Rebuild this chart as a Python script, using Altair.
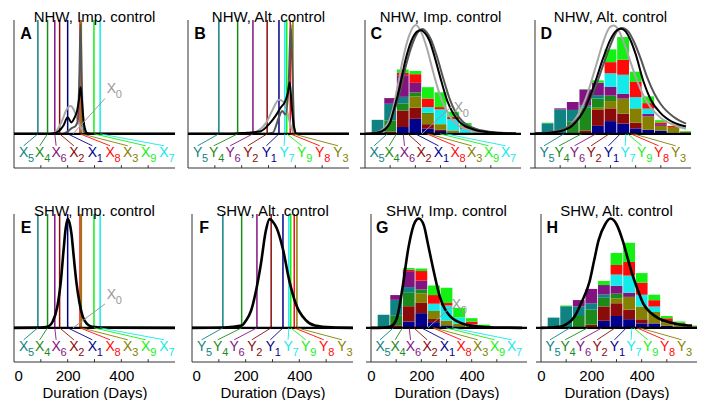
import altair as alt
import pandas as pd

FONT = "Liberation Sans"

# ---------------- data ----------------
COMPS = [1, 2, 3, 4, 5, 6, 7, 8, 9]
COMP_COLORS = ["#00008c", "#8b0a0a", "#858000", "#1b8a1b", "#0f8282",
               "#821482", "#14eaea", "#ff0a0a", "#14f014"]

X_ORDER = [5, 4, 6, 2, 1, 8, 3, 9, 7]
Y_ORDER = [5, 4, 6, 2, 1, 7, 9, 8, 3]
LABEL_DAYS = [36, 96, 157, 223, 292, 358, 424, 491, 559]
X_TARGETS = {5: 89, 4: 125, 6: 152, 2: 170, 1: 200, 8: 246, 3: 251, 9: 298, 7: 321}
Y_TARGETS = {5: 115, 4: 185, 6: 242, 2: 295, 1: 339, 7: 361, 9: 368, 8: 381, 3: 391}

TICK_DAYS = [100, 200, 300, 400, 500]
AXIS_LABELS = [0, 200, 400]

# stacked histogram bars: one row per bar, components X1..X9 (or Y1..Y9)
C_CENTERS = [50, 100, 150, 200, 250, 300, 350, 400, 450]
C_BARS = [
    [0, 0, 0, 0, 0.123, 0, 0, 0, 0],
    [0, 0.02, 0, 0.098, 0.146, 0.05, 0, 0, 0],
    [0.06, 0.145, 0, 0.06, 0.06, 0.19, 0, 0.02, 0.03],
    [0.132, 0.098, 0.098, 0.036, 0, 0.084, 0, 0.076, 0.028],
    [0.045, 0.04, 0.09, 0.01, 0, 0, 0.05, 0.075, 0.1],
    [0.025, 0.01, 0.05, 0, 0, 0, 0.13, 0.02, 0.13],
    [0.01, 0, 0.02, 0, 0, 0, 0.1, 0.02, 0.045],
    [0.005, 0, 0, 0, 0, 0, 0.04, 0.02, 0.03],
    [0, 0, 0, 0, 0, 0, 0.01, 0, 0.024],
]
D_CENTERS = [50, 100, 150, 200, 250, 300, 350, 400, 450, 500, 550, 600]
D_BARS = [
    [0, 0, 0, 0, 0.093, 0, 0, 0, 0.005],
    [0, 0, 0, 0, 0.214, 0.01, 0, 0, 0],
    [0, 0, 0, 0.11, 0.1, 0.07, 0, 0, 0],
    [0, 0.03, 0, 0.2, 0.02, 0.14, 0, 0, 0.002],
    [0.07, 0.14, 0.02, 0.08, 0.03, 0.11, 0, 0, 0.02],
    [0.112, 0.112, 0.064, 0.048, 0, 0.076, 0.12, 0.098, 0.112],
    [0.09, 0.087, 0.132, 0, 0, 0.042, 0.168, 0.132, 0.199],
    [0.048, 0.05, 0.126, 0, 0, 0, 0.098, 0.134, 0.09],
    [0.036, 0, 0.118, 0, 0, 0.02, 0.048, 0.048, 0.059],
    [0.028, 0, 0.042, 0, 0, 0.015, 0, 0.015, 0.02],
    [0.01, 0, 0.05, 0, 0, 0, 0, 0.01, 0],
    [0, 0, 0.02, 0, 0, 0, 0, 0, 0.005],
]
G_CENTERS = [50, 100, 150, 200, 250, 300, 350, 400, 450]
G_BARS = [
    [0, 0, 0, 0, 0.115, 0, 0, 0, 0],
    [0, 0.022, 0, 0.084, 0.14, 0.042, 0, 0, 0],
    [0.056, 0.134, 0, 0.118, 0.05, 0.14, 0, 0.014, 0.014],
    [0.129, 0.09, 0.084, 0.034, 0, 0.078, 0, 0.084, 0.022],
    [0.05, 0.028, 0.07, 0, 0, 0, 0.064, 0.076, 0.084],
    [0.022, 0, 0.042, 0, 0, 0, 0.132, 0.022, 0.134],
    [0, 0, 0.036, 0, 0, 0, 0.056, 0, 0.084],
    [0.01, 0, 0.01, 0, 0, 0, 0.01, 0.025, 0.03],
    [0, 0, 0.008, 0, 0, 0, 0, 0, 0.02],
]
H_CENTERS = [50, 100, 150, 200, 250, 300, 350, 400, 450, 500, 550, 600]
H_BARS = [
    [0, 0, 0, 0, 0.09, 0, 0, 0, 0],
    [0, 0, 0, 0, 0.19, 0, 0, 0, 0.006],
    [0, 0, 0, 0.104, 0.084, 0.056, 0, 0, 0],
    [0, 0.028, 0, 0.132, 0.056, 0.126, 0, 0, 0],
    [0.062, 0.126, 0, 0.076, 0.028, 0.084, 0, 0, 0.036],
    [0.104, 0.112, 0.042, 0.042, 0, 0.07, 0.098, 0.084, 0.106],
    [0.076, 0.084, 0.112, 0, 0, 0.036, 0.151, 0.12, 0.168],
    [0.039, 0.036, 0.112, 0, 0, 0, 0.104, 0.106, 0.084],
    [0.039, 0, 0.1, 0, 0, 0, 0.048, 0.056, 0.048],
    [0.02, 0, 0.03, 0, 0, 0.01, 0, 0.024, 0.02],
    [0.01, 0, 0.035, 0, 0, 0, 0, 0, 0.011],
    [0, 0, 0.015, 0, 0, 0, 0, 0, 0.005],
]

# curves (days, values)
A_LIGHT_D = [0, 140, 160, 180, 195, 212, 225, 240, 255, 270, 600]
A_LIGHT_V = [0, 0, 0.03, 0.12, 0.21, 0.245, 0.2, 0.1, 0.03, 0, 0]
A_DARK_D = [0, 180, 200, 215, 230, 238, 244, 248, 252, 256, 262, 272, 600]
A_DARK_V = [0, 0, 0.02, 0.05, 0.07, 0.12, 0.55, 0.96, 0.55, 0.15, 0.02, 0, 0]
A_BLACK_D = [0, 120, 150, 165, 185, 200, 214, 225, 235, 242, 248, 253, 258, 264, 274, 300, 600]
A_BLACK_V = [0, 0, 0.005, 0.02, 0.076, 0.146, 0.1, 0.14, 0.2, 0.3, 0.41, 0.3, 0.15, 0.05, 0.005, 0, 0]

B_LIGHT_D = [0, 230, 256, 292, 315, 339, 357, 369, 387, 399, 600]
B_LIGHT_V = [0, 0, 0.02, 0.1, 0.21, 0.3, 0.28, 0.2, 0.04, 0, 0]
B_DARK_D = [0, 290, 316, 339, 351, 363, 375, 383, 389, 396, 405, 600]
B_DARK_V = [0, 0, 0.01, 0.146, 0.2, 0.17, 0.426, 0.96, 0.57, 0.05, 0, 0]
B_BLACK_D = [0, 160, 220, 268, 304, 327, 345, 363, 372, 379, 387, 395, 405, 600]
B_BLACK_V = [0, 0, 0.01, 0.02, 0.09, 0.16, 0.23, 0.29, 0.36, 0.454, 0.23, 0.06, 0, 0]

C_LIGHT_D = [0, 50, 75, 95, 110, 128, 150, 175, 202, 222, 245, 270, 295, 320, 345, 370, 430, 490, 600]
C_LIGHT_V = [0, 0.015, 0.05, 0.11, 0.21, 0.4, 0.65, 0.86, 0.955, 0.9, 0.76, 0.55, 0.36, 0.22, 0.13, 0.075, 0.025, 0.008, 0.002]
C_DARK_D = [0, 50, 80, 100, 115, 140, 165, 190, 213, 228, 246, 262, 287, 312, 336, 360, 385, 445, 505, 560, 600]
C_DARK_V = [0, 0.012, 0.045, 0.1, 0.19, 0.38, 0.62, 0.8, 0.9, 0.92, 0.89, 0.83, 0.67, 0.48, 0.31, 0.19, 0.115, 0.04, 0.016, 0.007, 0.004]
C_BLACK_D = [0, 50, 80, 100, 113, 137, 161, 185, 208, 222, 240, 256, 280, 304, 327, 351, 375, 435, 494, 550, 600]
C_BLACK_V = [0, 0.01, 0.04, 0.1, 0.2, 0.4, 0.65, 0.82, 0.9, 0.91, 0.88, 0.82, 0.65, 0.457, 0.29, 0.176, 0.106, 0.036, 0.014, 0.006, 0.003]

D_LIGHT_D = [0, 50, 100, 150, 200, 240, 270, 295, 312, 330, 350, 375, 400, 430, 460, 500, 550, 600]
D_LIGHT_V = [0.003, 0.01, 0.03, 0.1, 0.3, 0.58, 0.8, 0.93, 0.952, 0.92, 0.82, 0.66, 0.5, 0.34, 0.23, 0.14, 0.08, 0.045]
D_DARK_D = [0, 50, 100, 150, 200, 240, 270, 300, 325, 345, 370, 395, 420, 445, 475, 500, 550, 600]
D_DARK_V = [0.005, 0.012, 0.03, 0.09, 0.22, 0.41, 0.6, 0.78, 0.9, 0.93, 0.9, 0.8, 0.66, 0.5, 0.35, 0.26, 0.15, 0.09]
D_BLACK_D = [0, 50, 100, 150, 200, 240, 270, 300, 325, 341, 360, 380, 400, 431, 460, 500, 550, 600]
D_BLACK_V = [0.003, 0.008, 0.022, 0.075, 0.23, 0.46, 0.66, 0.83, 0.91, 0.924, 0.9, 0.82, 0.7, 0.46, 0.3, 0.18, 0.1, 0.064]

E_BLACK_D = [0, 100, 125, 145, 161, 175, 185, 193, 200, 207, 214, 222, 232, 244, 256, 272, 292, 350, 600]
E_BLACK_V = [0, 0.002, 0.01, 0.06, 0.18, 0.42, 0.69, 0.88, 0.955, 0.92, 0.83, 0.64, 0.41, 0.22, 0.1, 0.035, 0.01, 0.002, 0]
F_BLACK_D = [0, 120, 185, 200, 220, 238, 256, 275, 289, 302, 315, 339, 363, 387, 423, 458, 520, 600]
F_BLACK_V = [0, 0.003, 0.02, 0.06, 0.15, 0.32, 0.55, 0.85, 0.955, 0.93, 0.88, 0.69, 0.41, 0.21, 0.07, 0.02, 0.004, 0]
G_BLACK_D = [0, 50, 75, 90, 107, 125, 150, 175, 190, 210, 225, 244, 274, 315, 375, 450, 600]
G_BLACK_V = [0, 0.002, 0.01, 0.03, 0.12, 0.35, 0.72, 0.93, 0.96, 0.9, 0.75, 0.55, 0.27, 0.1, 0.03, 0.008, 0]
H_BLACK_D = [0, 74, 100, 133, 160, 193, 210, 229, 255, 276, 300, 324, 342, 360, 385, 407, 437, 467, 510, 550, 600]
H_BLACK_V = [0, 0.01, 0.03, 0.098, 0.22, 0.407, 0.58, 0.77, 0.91, 0.96, 0.91, 0.77, 0.63, 0.49, 0.33, 0.21, 0.13, 0.084, 0.05, 0.03, 0.02]

# X0 annotation: (label day, label value, line start day, line start value, target day)
X0_A = (363, 0.39, 339, 0.31, 220)
X0_C = (371, 0.23, 345, 0.244, 226)
X0_E = (363, 0.289, 339, 0.21, 220)
X0_G = (339, 0.205, 321, 0.19, 226)

PANEL_LETTER_POS = (45, 0.875)
LABEL_Y = -0.168
LEADER_Y = -0.105
Y_MIN, Y_MAX = -0.3, 1.0
TITLE_DAY = 300

TITLES = {
    "A": "NHW, Imp. control", "B": "NHW, Alt. control",
    "C": "NHW, Imp. control", "D": "NHW, Alt. control",
    "E": "SHW, Imp. control", "F": "SHW, Alt. control",
    "G": "SHW, Imp. control", "H": "SHW, Alt. control",
}

# ---------------- chart building ----------------
xs = alt.Scale(domain=[0, 600], nice=False, zero=False)
ys = alt.Scale(domain=[Y_MIN, Y_MAX], nice=False, zero=False)
cs = alt.Scale(domain=COMPS, range=COMP_COLORS)
AX = "#333333"
LIGHT, DARK, BLACK = "#a8a8a8", "#555555", "#000000"
PW, PH = 161, 148


def panel(key, letter_sym, order, targets, bars=None, centers=None, curves=(), vlines=False,
          x0=None, bottom=False):
    if bottom:
        xaxis = alt.Axis(values=AXIS_LABELS, ticks=False, grid=False, domain=False, labelFontSize=15,
                         labelFont=FONT, labelColor="#000", labelPadding=6, title="Duration (Days)",
                         titleFont=FONT, titleFontSize=15, titleFontWeight="normal", titleColor="#000",
                         titlePadding=2, labelFlush=True)
    else:
        xaxis = None

    def X(f):
        return alt.X(f, scale=xs, axis=xaxis)

    def Y(f, **kw):
        return alt.Y(f, scale=ys, axis=None, **kw)

    layers = []
    # axis lines (left and bottom) and inward ticks
    layers.append(alt.Chart(pd.DataFrame({"x": [0]})).mark_rule(color=AX, strokeWidth=1).encode(x=X("x:Q")))
    layers.append(alt.Chart(pd.DataFrame({"y": [Y_MIN]})).mark_rule(color=AX, strokeWidth=1).encode(
        y=Y("y:Q")))
    tick_df = pd.DataFrame({"x": TICK_DAYS, "y0": [Y_MIN] * len(TICK_DAYS),
                            "y1": [Y_MIN + 0.025] * len(TICK_DAYS)})
    layers.append(alt.Chart(tick_df).mark_rule(color=AX).encode(x=X("x:Q"), y=Y("y0:Q"), y2="y1:Q"))

    if bars is not None:
        rows = []
        for c, stack in zip(centers, bars):
            for comp, v in zip(COMPS, stack):
                if v > 0:
                    rows.append({"c": c, "comp": comp, "v": v})
        bdf = pd.DataFrame(rows)
        layers.append(alt.Chart(bdf).mark_bar(size=11.8, clip=True).encode(
            x=X("c:Q"), y=Y("v:Q", stack="zero"),
            color=alt.Color("comp:N", scale=cs, legend=None),
            order=alt.Order("comp:Q")))

    if vlines:
        vdf = pd.DataFrame({"d": [targets[k] for k in order], "comp": order,
                            "y0": [0.0] * 9, "y1": [Y_MAX] * 9})
        layers.append(alt.Chart(vdf).mark_rule(strokeWidth=1.5).encode(
            x=X("d:Q"), y=Y("y0:Q"), y2="y1:Q",
            color=alt.Color("comp:N", scale=cs, legend=None)))

    for days, vals, color, width in curves:
        df = pd.DataFrame({"d": days, "v": vals})
        layers.append(alt.Chart(df).mark_line(interpolate="monotone", color=color, strokeWidth=width).encode(
            x=X("d:Q"), y=Y("v:Q")))

    layers.append(alt.Chart(pd.DataFrame({"y": [0.0]})).mark_rule(color="#000", strokeWidth=2.2).encode(
        y=Y("y:Q")))

    ldf = pd.DataFrame({
        "lx": LABEL_DAYS, "tx": [targets[k] for k in order], "comp": order,
        "sym": [letter_sym] * 9, "dig": [str(k) for k in order],
        "ly": [LABEL_Y] * 9, "l0": [LEADER_Y] * 9, "z": [0.0] * 9,
    })
    layers.append(alt.Chart(ldf).mark_rule(strokeWidth=0.9).encode(
        x=X("lx:Q"), x2="tx:Q", y=Y("l0:Q"), y2="z:Q",
        color=alt.Color("comp:N", scale=cs, legend=None)))
    layers.append(alt.Chart(ldf).mark_text(fontSize=14, font=FONT, baseline="middle", align="center").encode(
        x=X("lx:Q"), y=Y("ly:Q"), text="sym:N",
        color=alt.Color("comp:N", scale=cs, legend=None)))
    layers.append(alt.Chart(ldf).mark_text(fontSize=11, font=FONT, baseline="middle", align="center",
                                           dx=7.5, dy=6).encode(
        x=X("lx:Q"), y=Y("ly:Q"), text="dig:N",
        color=alt.Color("comp:N", scale=cs, legend=None)))

    if x0 is not None:
        td, tv, sd, sv, tg = x0
        xdf = pd.DataFrame({"td": [td], "tv": [tv], "sd": [sd], "sv": [sv], "tg": [tg], "z": [0.0],
                            "s": ["X"], "g": ["0"]})
        layers.append(alt.Chart(xdf).mark_rule(color="#999999", strokeWidth=1).encode(
            x=X("sd:Q"), x2="tg:Q", y=Y("sv:Q"), y2="z:Q"))
        layers.append(alt.Chart(xdf).mark_text(fontSize=14, font=FONT, color="#999999").encode(
            x=X("td:Q"), y=Y("tv:Q"), text="s:N"))
        layers.append(alt.Chart(xdf).mark_text(fontSize=11, font=FONT, color="#999999", dx=7.5, dy=6).encode(
            x=X("td:Q"), y=Y("tv:Q"), text="g:N"))

    pdf = pd.DataFrame({"d": [PANEL_LETTER_POS[0]], "v": [PANEL_LETTER_POS[1]], "t": [key]})
    layers.append(alt.Chart(pdf).mark_text(fontSize=16, font=FONT, fontWeight="bold", color="#000").encode(
        x=X("d:Q"), y=Y("v:Q"), text="t:N"))

    # panel title as a text mark sitting on the top edge
    tdf = pd.DataFrame({"d": [TITLE_DAY], "v": [Y_MAX], "t": [TITLES[key]]})
    layers.append(alt.Chart(tdf).mark_text(fontSize=15, font=FONT, color="#000", baseline="alphabetic",
                                           align="center", dy=2).encode(
        x=X("d:Q"), y=Y("v:Q"), text="t:N"))

    return alt.layer(*layers).properties(width=PW, height=PH)


pA = panel("A", "X", X_ORDER, X_TARGETS, vlines=True, x0=X0_A,
           curves=[(A_LIGHT_D, A_LIGHT_V, LIGHT, 2), (A_DARK_D, A_DARK_V, DARK, 2),
                   (A_BLACK_D, A_BLACK_V, BLACK, 2)])
pB = panel("B", "Y", Y_ORDER, Y_TARGETS, vlines=True,
           curves=[(B_LIGHT_D, B_LIGHT_V, LIGHT, 2), (B_DARK_D, B_DARK_V, DARK, 2),
                   (B_BLACK_D, B_BLACK_V, BLACK, 2)])
pC = panel("C", "X", X_ORDER, X_TARGETS, bars=C_BARS, centers=C_CENTERS, x0=X0_C,
           curves=[(C_LIGHT_D, C_LIGHT_V, LIGHT, 2), (C_DARK_D, C_DARK_V, DARK, 2),
                   (C_BLACK_D, C_BLACK_V, BLACK, 2)])
pD = panel("D", "Y", Y_ORDER, Y_TARGETS, bars=D_BARS, centers=D_CENTERS,
           curves=[(D_LIGHT_D, D_LIGHT_V, LIGHT, 2), (D_DARK_D, D_DARK_V, DARK, 2),
                   (D_BLACK_D, D_BLACK_V, BLACK, 2)])
pE = panel("E", "X", X_ORDER, X_TARGETS, vlines=True, x0=X0_E, bottom=True,
           curves=[(E_BLACK_D, E_BLACK_V, BLACK, 2.6)])
pF = panel("F", "Y", Y_ORDER, Y_TARGETS, vlines=True, bottom=True,
           curves=[(F_BLACK_D, F_BLACK_V, BLACK, 2.6)])
pG = panel("G", "X", X_ORDER, X_TARGETS, bars=G_BARS, centers=G_CENTERS, x0=X0_G, bottom=True,
           curves=[(G_BLACK_D, G_BLACK_V, BLACK, 2.6)])
pH = panel("H", "Y", Y_ORDER, Y_TARGETS, bars=H_BARS, centers=H_CENTERS, bottom=True,
           curves=[(H_BLACK_D, H_BLACK_V, BLACK, 2.6)])

row1 = alt.hconcat(pA, pB, pC, pD, spacing=5)
row2 = alt.hconcat(pE, pF, pG, pH, spacing=5)
chart = alt.vconcat(row1, row2, spacing=35).properties(
    padding={"top": 2, "left": 0, "right": 0, "bottom": 0}).configure(
    font=FONT, view=alt.ViewConfig(stroke=None))

chart.save("out.html", embed_options={"renderer": "svg", "actions": False})
